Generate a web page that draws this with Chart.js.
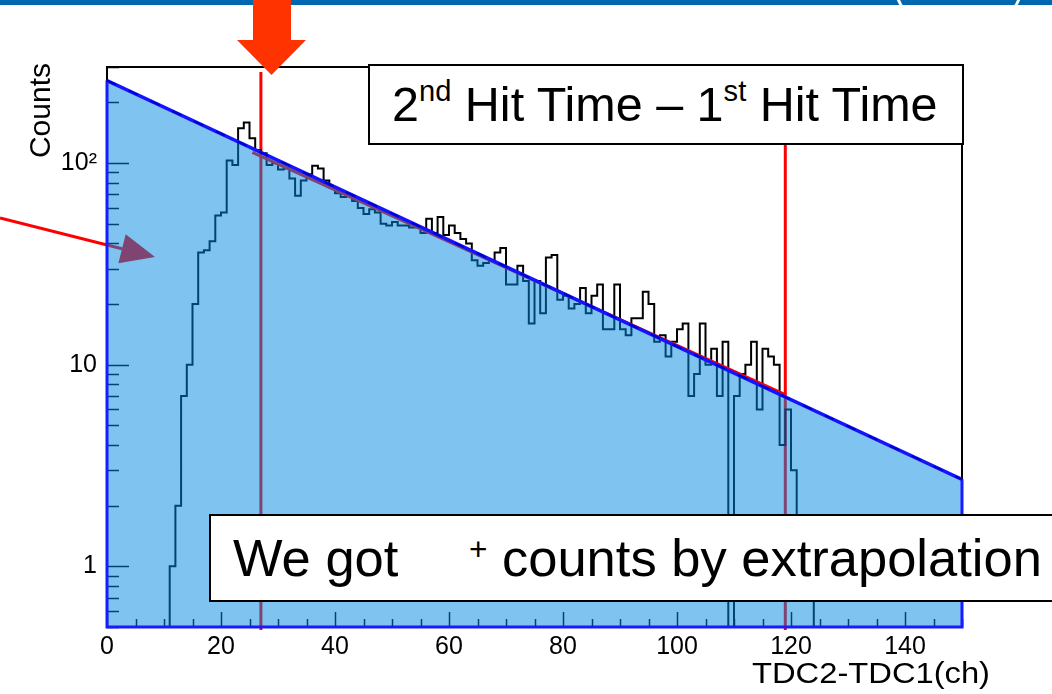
<!DOCTYPE html>
<html>
<head>
<meta charset="utf-8">
<script src="https://cdn.jsdelivr.net/npm/chart.js@4.4.1/dist/chart.umd.min.js"></script>
<style>
body{margin:0;background:#fff;}
#wrap{position:relative;width:1052px;height:694px;overflow:hidden;font-family:"Liberation Sans",Arial,sans-serif;}
#c{position:absolute;left:0;top:0;}
.box{position:absolute;background:#fff;border:2px solid #000;box-sizing:border-box;color:#000;white-space:nowrap;}
#box1{left:368px;top:64px;width:596px;height:81px;font-size:48.5px;padding-left:22px;line-height:77px;}
#box2{left:209px;top:514px;width:900px;height:88px;font-size:52.5px;padding-left:22px;line-height:84px;}
.box sup{font-size:0.6em;vertical-align:0.68em;line-height:0;}
#box2 sup{vertical-align:0.5em;}
.gap{display:inline-block;width:56px;}
</style>
</head>
<body>
<div id="wrap">
  <canvas id="c" width="1052" height="694"></canvas>
  <div class="box" id="box1">2<sup>nd</sup> Hit Time – 1<sup>st</sup> Hit Time</div>
  <div class="box" id="box2">We got <span class="gap"></span><sup>+</sup> counts by extrapolation</div>
</div>
<script>
// Histogram: 1-channel bins, lower edge = bin index
const binWidth = 1;
const histCounts = [
  0,0,0,0,0,0,0,0,0,0,
  0,1,2,7,10,20,36,37,41,55,
  57,103,98,149,159,133,116,112,98,100,
  93,94,84,69,82,88,97,94,82,76,
  71,68,69,65,60,56,59,57,50,49,
  51,49,49,48,48,45,53,45,54,44,
  49,45,42,40,33,31,32,33,36,38,
  25,25,31,26,16,26,18,34,35,21,
  22,19,20,24,18,22,25,15,15,25,
  15,14,17,17,23,20,13,14,11,13,
  15,16,7,9,16,10,12,7,13,0,
  7,9,10,13,6,12,11,10,4,6,
  3,1,1,1,0,0,0,0,0,0,
  0,0,0,0,0,0,0,0,0,0,
  0,0,0,0,0,0,0,0,0,0
];

// exponential fit (extrapolated over the whole range) and the fitted range
const fitX = [0, 150];
const fitY = [257, 2.7];
const rangeX = [25.5, 119];
const rangeY = [113, 7.1];
const cutX = [27, 119];

// axes
const xTickValues = [0, 20, 40, 60, 80, 100, 120, 140];
const yTickValues = [1, 10, 100];
const yTickLabels = ['1', '10', '10²'];

const FONT = '"Liberation Sans", Arial, sans-serif';
const emptyFloor = 0.05; // empty bins go down past the axis floor

const histPoints = histCounts.map((c, i) => ({x: i * binWidth, y: c > 0 ? c : emptyFloor}));
histPoints.push({x: histCounts.length * binWidth, y: emptyFloor});

const decor = {
  id: 'decor',
  beforeDatasetsDraw(chart) {
    const {ctx, chartArea: a, scales: {x, y}} = chart;
    ctx.save();
    ctx.strokeStyle = '#000';
    ctx.lineWidth = 2;
    ctx.strokeRect(a.left, a.top, a.right - a.left, a.bottom - a.top);

    // ROOT style ticks inside the frame
    ctx.lineWidth = 1.5;
    ctx.beginPath();
    for (let d = -1; d <= 2; d++) {
      for (let m = 1; m <= 9; m++) {
        const v = m * Math.pow(10, d);
        if (v < y.min || v > y.max) continue;
        const py = Math.round(y.getPixelForValue(v)) + 0.5;
        ctx.moveTo(a.left, py);
        ctx.lineTo(a.left + (m === 1 ? 22 : 12), py);
      }
    }
    for (let v = 0; v <= 150; v += 5) {
      const px = Math.round(x.getPixelForValue(v)) + 0.5;
      ctx.moveTo(px, a.bottom);
      ctx.lineTo(px, a.bottom - (v % 20 === 0 ? 15 : 8));
    }
    ctx.stroke();

    // red cut lines
    ctx.strokeStyle = '#ff0000';
    ctx.lineWidth = 3;
    ctx.beginPath();
    cutX.forEach(v => {
      const px = x.getPixelForValue(v);
      ctx.moveTo(px, a.top + 5);
      ctx.lineTo(px, a.bottom + 3);
    });
    ctx.stroke();

    // red pointer arrow from the left
    const sx = 0, sy = 218, tx = 155, ty = 257;
    const ang = Math.atan2(ty - sy, tx - sx), hl = 34, hw = 15;
    const bx = tx - hl * Math.cos(ang), by = ty - hl * Math.sin(ang);
    ctx.beginPath();
    ctx.moveTo(sx, sy);
    ctx.lineTo(bx, by);
    ctx.stroke();
    ctx.fillStyle = '#ff0000';
    ctx.beginPath();
    ctx.moveTo(tx, ty);
    ctx.lineTo(bx + hw * Math.sin(ang), by - hw * Math.cos(ang));
    ctx.lineTo(bx - hw * Math.sin(ang), by + hw * Math.cos(ang));
    ctx.closePath();
    ctx.fill();
    ctx.restore();
  },
  afterDatasetsDraw(chart) {
    const {ctx, chartArea: a, scales: {x, y}} = chart;
    ctx.save();
    ctx.strokeStyle = '#1a1aff';
    ctx.lineWidth = 3;
    ctx.beginPath();
    ctx.moveTo(x.getPixelForValue(fitX[0]), y.getPixelForValue(fitY[0]));
    ctx.lineTo(x.getPixelForValue(fitX[0]), a.bottom);
    ctx.lineTo(x.getPixelForValue(fitX[1]), a.bottom);
    ctx.lineTo(x.getPixelForValue(fitX[1]), y.getPixelForValue(fitY[1]));
    ctx.stroke();
    // darker dashes along the fit line
    ctx.strokeStyle = '#0000c8';
    ctx.lineWidth = 2;
    ctx.setLineDash([10, 14]);
    ctx.beginPath();
    ctx.moveTo(x.getPixelForValue(fitX[0]), y.getPixelForValue(fitY[0]));
    ctx.lineTo(x.getPixelForValue(fitX[1]), y.getPixelForValue(fitY[1]));
    ctx.stroke();
    ctx.restore();
  },
  afterDraw(chart) {
    const {ctx} = chart;
    ctx.save();
    ctx.fillStyle = '#000';
    // y title
    ctx.font = '30px ' + FONT;
    ctx.translate(50, 63);
    ctx.rotate(-Math.PI / 2);
    ctx.textAlign = 'right';
    ctx.fillText('Counts', 0, 0);
    ctx.restore();

    // x title, stretched like ROOT's Helvetica
    ctx.save();
    ctx.font = '29px ' + FONT;
    const t = 'TDC2-TDC1(ch)';
    const w = ctx.measureText(t).width;
    ctx.translate(990 - 238, 683);
    ctx.scale(238 / w, 1);
    ctx.fillStyle = '#000';
    ctx.fillText(t, 0, 0);
    ctx.restore();

    // slide header strip
    ctx.save();
    ctx.fillStyle = '#0068b0';
    ctx.fillRect(0, 0, 1052, 5);
    ctx.fillStyle = '#fff';
    ctx.font = '36px ' + FONT;
    ctx.fillText('(', 893, 0);
    ctx.fillText(')', 1012, 0);

    // orange down arrow
    ctx.fillStyle = '#ff3300';
    ctx.fillRect(253, 0, 38, 41);
    ctx.beginPath();
    ctx.moveTo(237, 40);
    ctx.lineTo(306, 40);
    ctx.lineTo(271.5, 75);
    ctx.closePath();
    ctx.fill();
    ctx.restore();
  }
};

new Chart(document.getElementById('c'), {
  type: 'line',
  data: {
    datasets: [
      {
        label: 'fit',
        data: fitX.map((v, i) => ({x: v, y: fitY[i]})),
        borderColor: '#1414ff',
        borderWidth: 3.5,
        backgroundColor: 'rgba(0,135,225,0.5)',
        fill: 'start',
        pointRadius: 0,
        order: 1
      },
      {
        label: 'fit range',
        data: rangeX.map((v, i) => ({x: v, y: rangeY[i]})),
        borderColor: '#ff0000',
        borderWidth: 3,
        fill: false,
        pointRadius: 0,
        order: 2
      },
      {
        label: 'TDC2-TDC1',
        data: histPoints,
        borderColor: '#000',
        borderWidth: 2,
        stepped: true,
        fill: false,
        pointRadius: 0,
        order: 3
      }
    ]
  },
  options: {
    responsive: false,
    animation: false,
    devicePixelRatio: 1,
    layout: {padding: {left: 0, top: 67, right: 90, bottom: 0}},
    plugins: {legend: {display: false}, tooltip: {enabled: false}},
    scales: {
      x: {
        type: 'linear',
        min: 0,
        max: 150,
        grid: {display: false, drawTicks: false},
        border: {display: false},
        ticks: {color: '#000', font: {family: FONT, size: 25}, padding: 5, maxRotation: 0, autoSkip: false},
        afterBuildTicks: s => { s.ticks = xTickValues.map(v => ({value: v})); },
        afterFit: s => { s.height = 67; }
      },
      y: {
        type: 'logarithmic',
        min: 0.5,
        max: 300,
        grid: {display: false, drawTicks: false},
        border: {display: false},
        ticks: {
          color: '#000',
          font: {family: FONT, size: 25},
          padding: 10,
          autoSkip: false,
          callback: v => yTickLabels[yTickValues.indexOf(v)]
        },
        afterBuildTicks: s => { s.ticks = yTickValues.map(v => ({value: v})); },
        afterFit: s => { s.width = 107; }
      }
    }
  },
  plugins: [decor]
});
</script>
</body>
</html>
